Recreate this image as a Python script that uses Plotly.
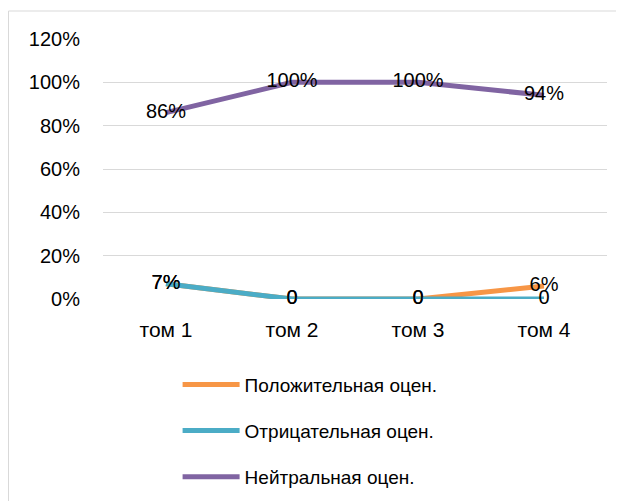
import plotly.graph_objects as go

categories = ["том 1", "том 2", "том 3", "том 4"]
positive = [0.07, 0.0, 0.0, 0.06]
negative = [0.07, 0.0, 0.0, 0.0]
neutral = [0.86, 1.0, 1.0, 0.94]
positive_labels = ["7%", "0", "0", "6%"]
negative_labels = ["7%", "0", "0", "0"]
neutral_labels = ["86%", "100%", "100%", "94%"]
series_names = ["Положительная оцен.", "Отрицательная оцен.", "Нейтральная оцен."]
y_ticks = [0, 0.2, 0.4, 0.6, 0.8, 1.0, 1.2]
y_tick_labels = ["0%", "20%", "40%", "60%", "80%", "100%", "120%"]

colors = ["#F79646", "#4BACC6", "#8064A2"]
FONT = "Liberation Sans"
FS = 20

fig = go.Figure()
for i, (vals, labels) in enumerate([(positive, positive_labels),
                                    (negative, negative_labels),
                                    (neutral, neutral_labels)]):
    fig.add_trace(go.Scatter(
        x=categories, y=vals, text=labels, name=series_names[i],
        mode="lines+text", textposition="middle center",
        textfont=dict(family=FONT, size=FS, color="#000000"),
        line=dict(color=colors[i], width=5),
        legendgroup=f"g{i}", cliponaxis=False,
    ))

# page has an 8px body margin; figure sized so it fills the 624x501 window
W, H = 616, 493
L, R, T, B = 95, 17, 31, 202
PW, PH = W - L - R, H - T - B

fig.update_layout(
    width=W, height=H,
    margin=dict(l=L, r=R, t=T, b=B, autoexpand=False),
    paper_bgcolor="white", plot_bgcolor="white",
    font=dict(family=FONT, size=FS, color="#000000"),
    showlegend=True,
    legend=dict(x=0.148, y=-0.256, xanchor="left", yanchor="top",
                orientation="v", tracegroupgap=18.5, itemwidth=57,
                font=dict(family=FONT, size=FS - 1, color="#000000"),
                bgcolor="rgba(0,0,0,0)"),
    xaxis=dict(type="category", range=[-0.5, 3.5], showgrid=False,
               showline=False, zeroline=False, ticks="",
               ticklabelstandoff=16, tickfont=dict(size=21)),
    yaxis=dict(range=[0, 1.2], tickvals=y_ticks, ticktext=y_tick_labels,
               showgrid=True, gridcolor="#d9d9d9", gridwidth=1,
               zeroline=False, showline=False, ticks="",
               ticklabelstandoff=22, tickfont=dict(size=FS)),
    shapes=[dict(type="rect", xref="paper", yref="paper",
                 x0=(0.5 - L) / PW, x1=1.2, y0=-1.0, y1=1 + (T - 3) / PH,
                 line=dict(color="#d9d9d9", width=1), fillcolor="rgba(0,0,0,0)",
                 layer="below")],
)

fig.write_html("out.html")
